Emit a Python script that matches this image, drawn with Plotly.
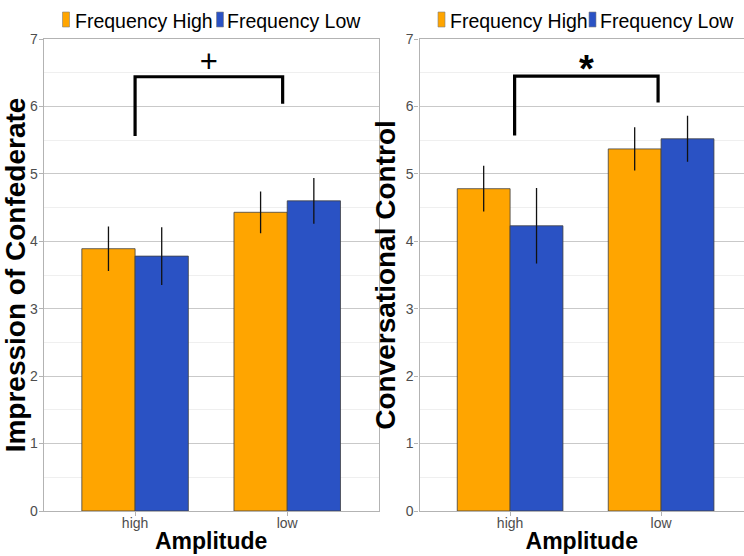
import plotly.graph_objects as go

W, H = 744, 556

categories = ["high", "low"]
series_names = ["Frequency High", "Frequency Low"]
series_colors = ["#FFA500", "#2A52C4"]

# Panel 1: Impression of Confederate
imp_high = [3.89, 4.43]
imp_high_err = [0.33, 0.31]
imp_low = [3.78, 4.60]
imp_low_err = [0.43, 0.34]

# Panel 2: Conversational Control
conv_high = [4.78, 5.37]
conv_high_err = [0.34, 0.32]
conv_low = [4.23, 5.52]
conv_low_err = [0.56, 0.34]

# significance brackets: x (category units), y
br1_x = [0.0, 0.0, 0.97, 0.97]
br1_y = [5.56, 6.44, 6.44, 6.04]
br1_label = "+"
br1_label_y = 6.63
br2_x = [0.03, 0.03, 0.98, 0.98]
br2_y = [5.57, 6.45, 6.45, 6.06]
br2_label = "*"
br2_label_y = 6.51

y_titles = ["Impression of Confederate", "Conversational Control"]
x_title = "Amplitude"

cat_pos = list(range(len(categories)))

fig = go.Figure()
panels = [
    ("x", "y", [imp_high, imp_low], [imp_high_err, imp_low_err], br1_x, br1_y, br1_label, br1_label_y),
    ("x2", "y2", [conv_high, conv_low], [conv_high_err, conv_low_err], br2_x, br2_y, br2_label, br2_label_y),
]
for xa, ya, vals, errs, bx, by, blab, bly in panels:
    for i in range(2):
        fig.add_trace(go.Bar(
            x=cat_pos, y=vals[i], name=series_names[i], xaxis=xa, yaxis=ya,
            marker=dict(color=series_colors[i], line=dict(color="#404040", width=0.8)),
            error_y=dict(type="data", array=errs[i], color="#111111", thickness=1.3, width=0),
            showlegend=False, offsetgroup=str(i),
        ))
    fig.add_trace(go.Scatter(x=bx, y=by, mode="lines", xaxis=xa, yaxis=ya,
                             line=dict(color="black", width=3.2), showlegend=False,
                             hoverinfo="skip"))
    fig.add_trace(go.Scatter(x=[(bx[0] + bx[-1]) / 2], y=[bly], mode="text",
                             text=["<b>*</b>" if blab == "*" else blab],
                             xaxis=xa, yaxis=ya, showlegend=False,
                             textfont=dict(size=31 if blab == "+" else 38, color="black",
                                           family="Liberation Sans, Arial"),
                             hoverinfo="skip"))

ydom = [(H - 511) / H, (H - 39) / H]
x1dom = [43.8 / W, 378.5 / W]
x2dom = [419.5 / W, 1.0]

axis_common = dict(
    showline=True, linecolor="#b3b3b3", linewidth=1.2, mirror=True,
    ticks="outside", ticklen=4, tickcolor="#b3b3b3",
    tickfont=dict(family="Liberation Sans, Arial", size=14, color="#4d4d4d"),
    zeroline=False, automargin=False,
)
yaxis_common = dict(axis_common, range=[0, 7], dtick=1, showgrid=True,
                    gridcolor="#c9c9c9", gridwidth=1, ticklabelstandoff=-2,
                    minor=dict(dtick=0.5, showgrid=True, gridcolor="#efefef", gridwidth=1))
xaxis_common = dict(axis_common, tickvals=cat_pos, ticktext=categories, showgrid=False,
                    ticklabelstandoff=-5,
                    title=dict(text="<b>%s</b>" % x_title, standoff=2,
                               font=dict(family="Liberation Sans, Arial", size=23, color="black")))

fig.update_layout(
    width=W, height=H, margin=dict(l=0, r=0, t=0, b=0, autoexpand=False),
    paper_bgcolor="white", plot_bgcolor="white",
    barmode="group", bargap=0.3, bargroupgap=0,
    xaxis=dict(xaxis_common, domain=x1dom, range=[-0.6, 1.6], anchor="y"),
    xaxis2=dict(xaxis_common, domain=x2dom, range=[-0.6, 1.549], anchor="y2"),
    yaxis=dict(yaxis_common, domain=ydom, anchor="x",
               title=dict(text="<b>%s</b>" % y_titles[0], standoff=2,
                          font=dict(family="Liberation Sans, Arial", size=28, color="black"))),
    yaxis2=dict(yaxis_common, domain=ydom, anchor="x2",
                title=dict(text="<b>%s</b>" % y_titles[1], standoff=2,
                           font=dict(family="Liberation Sans, Arial", size=28, color="black"))),
    showlegend=False,
)

# manual legends above each panel
legend_specs = [
    ([62.5, 216.5], [73, 225]),
    ([438, 589], [448, 598]),
]
for box_x, txt_x in legend_specs:
    for i in range(2):
        fig.add_shape(type="rect", xref="paper", yref="paper",
                      x0=box_x[i] / W, x1=(box_x[i] + 7) / W,
                      y0=(H - 27) / H, y1=(H - 12) / H,
                      fillcolor=series_colors[i], line=dict(color="#808080", width=0.6))
        fig.add_annotation(xref="paper", yref="paper", x=txt_x[i] / W, y=(H - 21) / H,
                           text=series_names[i], showarrow=False, xanchor="left",
                           yanchor="middle",
                           font=dict(family="Liberation Sans, Arial", size=19.5, color="black"))

fig.write_html("out.html")
